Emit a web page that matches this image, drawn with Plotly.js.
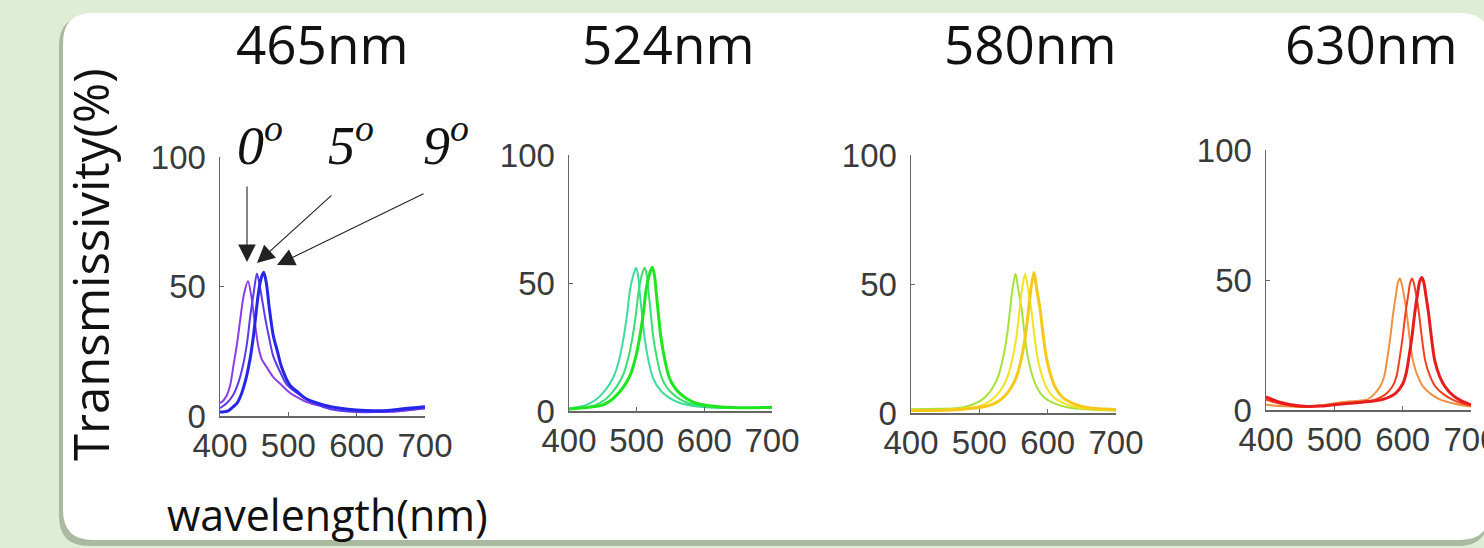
<!DOCTYPE html>
<html>
<head>
<meta charset="utf-8">
<script src="https://cdn.plot.ly/plotly-3.0.1.min.js"></script>
<style>html,body{margin:0;padding:0;background:#dfecd6;}#chart{width:1484px;height:548px;}</style>
</head>
<body>
<div id="chart"></div>
<script>
// ---- data ----
const panelTitles = ["465nm", "524nm", "580nm", "630nm"];
const angleLabels = ["0", "5", "9"];
const xTicks = [400, 500, 600, 700];
const yTicks = [0, 50, 100];

// 465 nm panel
const wl465_0 = [400,405,410,415,420,425,430,435,441,446,451,456,461,468,478,490,502,515,527,545,576,600,625,650,675,700];
const t465_0  = [5,6,8,12,20,28,38,47,52,46,36,27,22,19,15,12,9,7,5.4,4,2.8,2,1.6,1.6,2.2,3];
const wl465_5 = [400,410,419,427,434,440,444,449,454,459,466,472,478,488,498,512,527,551,576,600,650,700];
const t465_5  = [3,5,8,13,20,29,38,47,55,49,38,30,23,17,12,9,6.5,3.5,2,1.5,1.8,3];
const wl465_9 = [400,412,419,425,432,439,444,449,456,460,464,468,472,478,484,490,502,515,527,551,576,600,625,650,675,700];
const t465_9  = [1.5,2,3.5,5,9,15.5,22,31,47,53,55.5,51,42,31,25,19,12,9,6.5,4.3,3,2.3,2,2.2,3,3.6];

// 524 nm panel
const wl524_0 = [400,425,440,450,460,468,475,480,486,490,495,499,502,505,509,512,518,524,531,539,550,564,589,620,660,700];
const t524_0  = [1,2.3,4.5,7,10.5,14.7,21,27.6,38,47,53,56,53,45,35,28,19,13,9.5,7,4.8,3.1,1.8,1.3,1.2,1.4];
const wl524_5 = [400,438,453,463,473,481,488,493,499,503,508,512,515,518,522,525,531,537,544,552,563,577,602,630,665,700];
const t524_5  = [0.8,2.2,4.4,7,10.6,14.8,21.2,27.5,38,47,53.5,56,53,45.5,35,28,19.2,13,9.4,7,4.7,3,1.8,1.3,1.2,1.4];
const wl524_9 = [400,449,464,474,484,492,499,504,510,514,519,523,526,529,533,536,542,548,555,563,574,588,613,640,670,700];
const t524_9  = [0.8,2.3,4.6,7.2,10.8,15,21.5,28,38.5,47.5,53.5,56.2,53.5,46,35.5,28.5,19.5,13.2,9.6,7.1,4.8,3.1,1.9,1.4,1.3,1.5];

// 580 nm panel
const wl580_0 = [400,440,470,485,496,508,520,528,535,541,545,549,553,557,562,566,571,577,584,595,608,632,660,700];
const t580_0  = [1.5,1.6,1.9,2.8,3.9,6,10,14.5,21.7,31,40,49,54,48,40,31,21.7,15,10,6,3.9,2,1.4,1];
const wl580_5 = [400,450,480,500,511,522,534,542,549,555,559,563,567,571,576,580,585,591,598,609,622,646,670,700];
const t580_5  = [1.2,1.3,1.8,2.6,3.9,6,10,14.6,21.8,31,40.5,49,54,48.5,40,31,21.5,15,10,6,3.9,2,1.4,1.1];
const wl580_9 = [400,460,490,510,524,535,547,555,562,568,572,576,580,584,589,593,598,604,611,622,635,655,675,700];
const t580_9  = [1,1.2,1.8,2.6,3.9,6,10,14.5,21.7,31,40,49,54.5,48,40,31,21.7,15,10,6,3.9,2.2,1.6,1.3];

// 630 nm panel
const wl630_0 = [400,420,450,480,505,530,548,558,567,573,577,582,586,590,593,596,599,602,606,610,615,622,630,642,655,675,694,700];
const t630_0  = [2,1.5,1.2,1.8,2.8,3.5,4,6,9,13,19,28,37,44,49,50.6,48,44,37,28,19,13,9,6,4,2.5,1.5,1.3];
const wl630_5 = [400,420,450,480,510,540,560,575,585,591,595,600,604,608,611,614,617,620,624,628,633,640,648,660,673,688,700];
const t630_5  = [4,2.5,1.3,1.5,2.3,3,4,6,9,13,19,28,37,44,49,50.6,48,44,37,28,19,13,9,6,4,2.5,1.8];
const wl630_9 = [400,420,450,480,510,540,570,590,600,605,609,614,618,622,625,628,631,634,638,642,647,654,662,674,686,700];
const t630_9  = [5,3,1.5,1.5,2.3,3,4,6.5,10,14,20,29,38,45,49.5,51,49,44,37,28,19,13,9,5.5,3.5,2];

// ---- styling ----
const W = 1484, H = 548;
const px = x => x / W;
const py = y => 1 - y / H;

const panels = [
  {curves: [[wl465_0,t465_0],[wl465_5,t465_5],[wl465_9,t465_9]], colors: ["#8a3ee6","#5a3af0","#2626e8"],
   x0: 220, x1: 425, yTop: 157, yBot: 416, titleX: 322},
  {curves: [[wl524_0,t524_0],[wl524_5,t524_5],[wl524_9,t524_9]], colors: ["#3cdc9c","#38e070","#1ee61e"],
   x0: 569, x1: 772, yTop: 155, yBot: 411, titleX: 668},
  {curves: [[wl580_0,t580_0],[wl580_5,t580_5],[wl580_9,t580_9]], colors: ["#a6e23a","#f2e41e","#f6c81a"],
   x0: 911, x1: 1116, yTop: 155, yBot: 413, titleX: 1030},
  {curves: [[wl630_0,t630_0],[wl630_5,t630_5],[wl630_9,t630_9]], colors: ["#f09040","#f04020","#e81c1c"],
   x0: 1266, x1: 1471, yTop: 150, yBot: 410, titleX: 1371}
];
const widths = [2, 2, 3];

const traces = [];
const layout = {
  width: W, height: H,
  margin: {l: 0, r: 0, t: 0, b: 0},
  paper_bgcolor: "#dfecd6",
  plot_bgcolor: "rgba(0,0,0,0)",
  showlegend: false,
  shapes: [],
  annotations: []
};

panels.forEach((p, i) => {
  const n = i === 0 ? "" : String(i + 1);
  p.curves.forEach((c, k) => {
    traces.push({
      x: c[0], y: c[1], type: "scatter", mode: "lines",
      xaxis: "x" + n, yaxis: "y" + n,
      line: {color: p.colors[k], width: widths[k], shape: "spline", smoothing: 0.8},
      hoverinfo: "skip"
    });
  });
  const axCommon = {
    showline: true, linecolor: "#666", linewidth: 1.5,
    ticks: "inside", ticklen: 4, tickcolor: "#666", tickwidth: 1,
    showgrid: false, zeroline: false, fixedrange: true,
    ticklabeloverflow: "allow",
    tickfont: {family: "Liberation Sans, Arial, sans-serif", size: 33, color: "#3a3a3a"}
  };
  layout["xaxis" + n] = Object.assign({}, axCommon, {
    domain: [px(p.x0), px(p.x1)], range: [400, 700],
    tickvals: xTicks, ticktext: xTicks.map(String),
    anchor: "y" + n, ticklabelstandoff: 0
  });
  layout["yaxis" + n] = Object.assign({}, axCommon, {
    domain: [py(p.yBot), py(p.yTop)], range: [0, 100],
    tickvals: yTicks, ticktext: yTicks.map(String),
    anchor: "x" + n, ticklabelstandoff: 6
  });
  layout.annotations.push({
    text: panelTitles[i], xref: "paper", yref: "paper",
    x: px(p.titleX), y: py(43), xanchor: "center", yanchor: "middle",
    showarrow: false, font: {family: "Open Sans, DejaVu Sans, sans-serif", size: 53, color: "#111"}
  });
});

// rounded white panel + shadow
function rr(x0, y0, x1, y1, r) {
  return `M${px(x0 + r)},${py(y0)} L${px(x1 - r)},${py(y0)} Q${px(x1)},${py(y0)} ${px(x1)},${py(y0 + r)} ` +
         `L${px(x1)},${py(y1 - r)} Q${px(x1)},${py(y1)} ${px(x1 - r)},${py(y1)} ` +
         `L${px(x0 + r)},${py(y1)} Q${px(x0)},${py(y1)} ${px(x0)},${py(y1 - r)} ` +
         `L${px(x0)},${py(y0 + r)} Q${px(x0)},${py(y0)} ${px(x0 + r)},${py(y0)} Z`;
}
layout.shapes.push({type: "path", xref: "paper", yref: "paper", layer: "below",
  path: rr(59, 16, 1488, 546, 30), fillcolor: "rgba(125,145,118,0.55)", line: {width: 0}});
layout.shapes.push({type: "path", xref: "paper", yref: "paper", layer: "below",
  path: rr(63, 13, 1490, 540, 30), fillcolor: "#ffffff", line: {width: 0}});

// axis titles
layout.annotations.push({
  text: "Transmissivity(%)", xref: "paper", yref: "paper", x: px(90), y: py(265),
  xanchor: "center", yanchor: "middle", textangle: -90, showarrow: false,
  font: {family: "Open Sans, DejaVu Sans, sans-serif", size: 49, color: "#111"}
});
layout.annotations.push({
  text: "wavelength(nm)", xref: "paper", yref: "paper", x: px(327), y: py(514),
  xanchor: "center", yanchor: "middle", showarrow: false,
  font: {family: "Open Sans, DejaVu Sans, sans-serif", size: 43, color: "#111"}
});

// angle labels and arrows
const angleX = [235, 326, 421];
angleLabels.forEach((a, k) => {
  layout.annotations.push({
    text: "<i>" + a + "</i><sup><i>o</i></sup>", xref: "paper", yref: "paper",
    x: px(angleX[k]), y: py(141), xanchor: "left", yanchor: "middle", showarrow: false,
    font: {family: "Liberation Serif, DejaVu Serif, serif", size: 54, color: "#111"}
  });
});
const arrowTips = [[247, 262], [257, 263], [277, 265]];
const arrowTails = [[247, 185], [333, 194], [425, 193]];
arrowTips.forEach((t, k) => {
  layout.annotations.push({
    text: "", xref: "paper", yref: "paper", x: px(t[0]), y: py(t[1]),
    ax: arrowTails[k][0] - t[0], ay: arrowTails[k][1] - t[1],
    showarrow: true, arrowhead: 2, arrowsize: 3.2, arrowwidth: 1.1, arrowcolor: "#222", standoff: 0
  });
});

Plotly.newPlot("chart", traces, layout, {staticPlot: true, displayModeBar: false});
</script>
</body>
</html>
